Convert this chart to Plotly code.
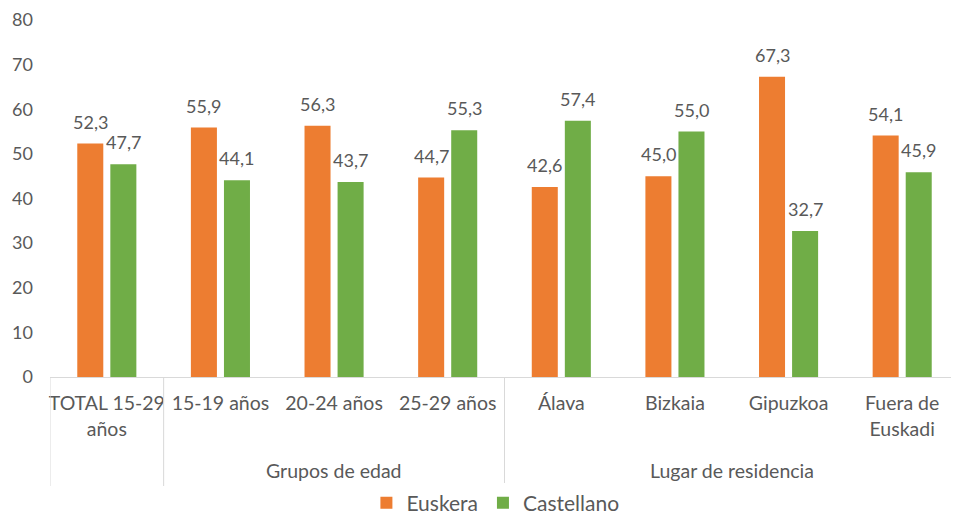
import plotly.graph_objects as go

categories = ["TOTAL 15-29<br>años", "15-19 años", "20-24 años", "25-29 años",
              "Álava", "Bizkaia", "Gipuzkoa", "Fuera de<br>Euskadi"]
groups = ["Grupos de edad", "Lugar de residencia"]
group_members = [[1, 2, 3], [4, 5, 6, 7]]
euskera = [52.3, 55.9, 56.3, 44.7, 42.6, 45.0, 67.3, 54.1]
castellano = [47.7, 44.1, 43.7, 55.3, 57.4, 55.0, 32.7, 45.9]
y_ticks = [0, 10, 20, 30, 40, 50, 60, 70, 80]

FONT = "Lato"
GREY = "#595959"
LINE = "#d9d9d9"
xpos = list(range(len(categories)))

BAR_W = 0.229
HALF_GAP = 0.031

def fmt(v):
    return f"{v:.1f}".replace(".", ",")

fig = go.Figure()
annotations = []
for name, vals, color, off in [("Euskera", euskera, "#ED7D31", -(BAR_W + HALF_GAP)),
                               ("Castellano", castellano, "#70AD47", HALF_GAP)]:
    fig.add_trace(go.Bar(
        x=xpos, y=vals, name=name, width=BAR_W, offset=off,
        marker=dict(color=color, line=dict(width=0)),
    ))
    for xi, v in zip(xpos, vals):
        annotations.append(dict(text=fmt(v), xref="x", yref="y", x=xi + off + BAR_W / 2, y=v,
                                yanchor="bottom", yshift=9, showarrow=False,
                                font=dict(family=FONT, size=18, color=GREY)))

H_PLOT = 357.0
def py(px):
    return (375 - px) / H_PLOT

shapes = []
for xs in [-0.5, 0.5, 3.5]:
    shapes.append(dict(type="line", xref="x", yref="paper", x0=xs, x1=xs,
                       y0=0, y1=py(484), line=dict(color=LINE, width=1)))

for g, members in zip(groups, group_members):
    annotations.append(dict(text=g, xref="x", yref="paper",
                            x=(members[0] + members[-1]) / 2, y=py(468),
                            showarrow=False, yanchor="middle",
                            font=dict(family=FONT, size=19.5, color=GREY)))

fig.update_layout(
    width=951, height=516,
    margin=dict(l=42, r=0, t=12, b=138),
    paper_bgcolor="white", plot_bgcolor="white",
    barmode="overlay",
    font=dict(family=FONT, size=18, color=GREY),
    xaxis=dict(range=[-0.5, 7.5], tickvals=xpos, ticktext=categories, automargin=False,
               showgrid=False, zeroline=False, showline=True, linecolor=LINE,
               linewidth=1, ticks="", ticklabelstandoff=9,
               tickfont=dict(family=FONT, size=19.5, color=GREY)),
    yaxis=dict(range=[0, 80], tickvals=y_ticks, showgrid=False, zeroline=False,
               showline=False, ticks="", ticklabelstandoff=16, automargin=False,
               ticklabeloverflow="allow",
               tickfont=dict(family=FONT, size=18, color=GREY)),
    showlegend=True,
    legend=dict(orientation="h", x=0.49, xanchor="center", y=py(501), yanchor="middle",
                font=dict(family=FONT, size=21, color=GREY), itemwidth=30,
                traceorder="normal"),
    shapes=shapes, annotations=annotations,
)

fig.write_html("out.html")
